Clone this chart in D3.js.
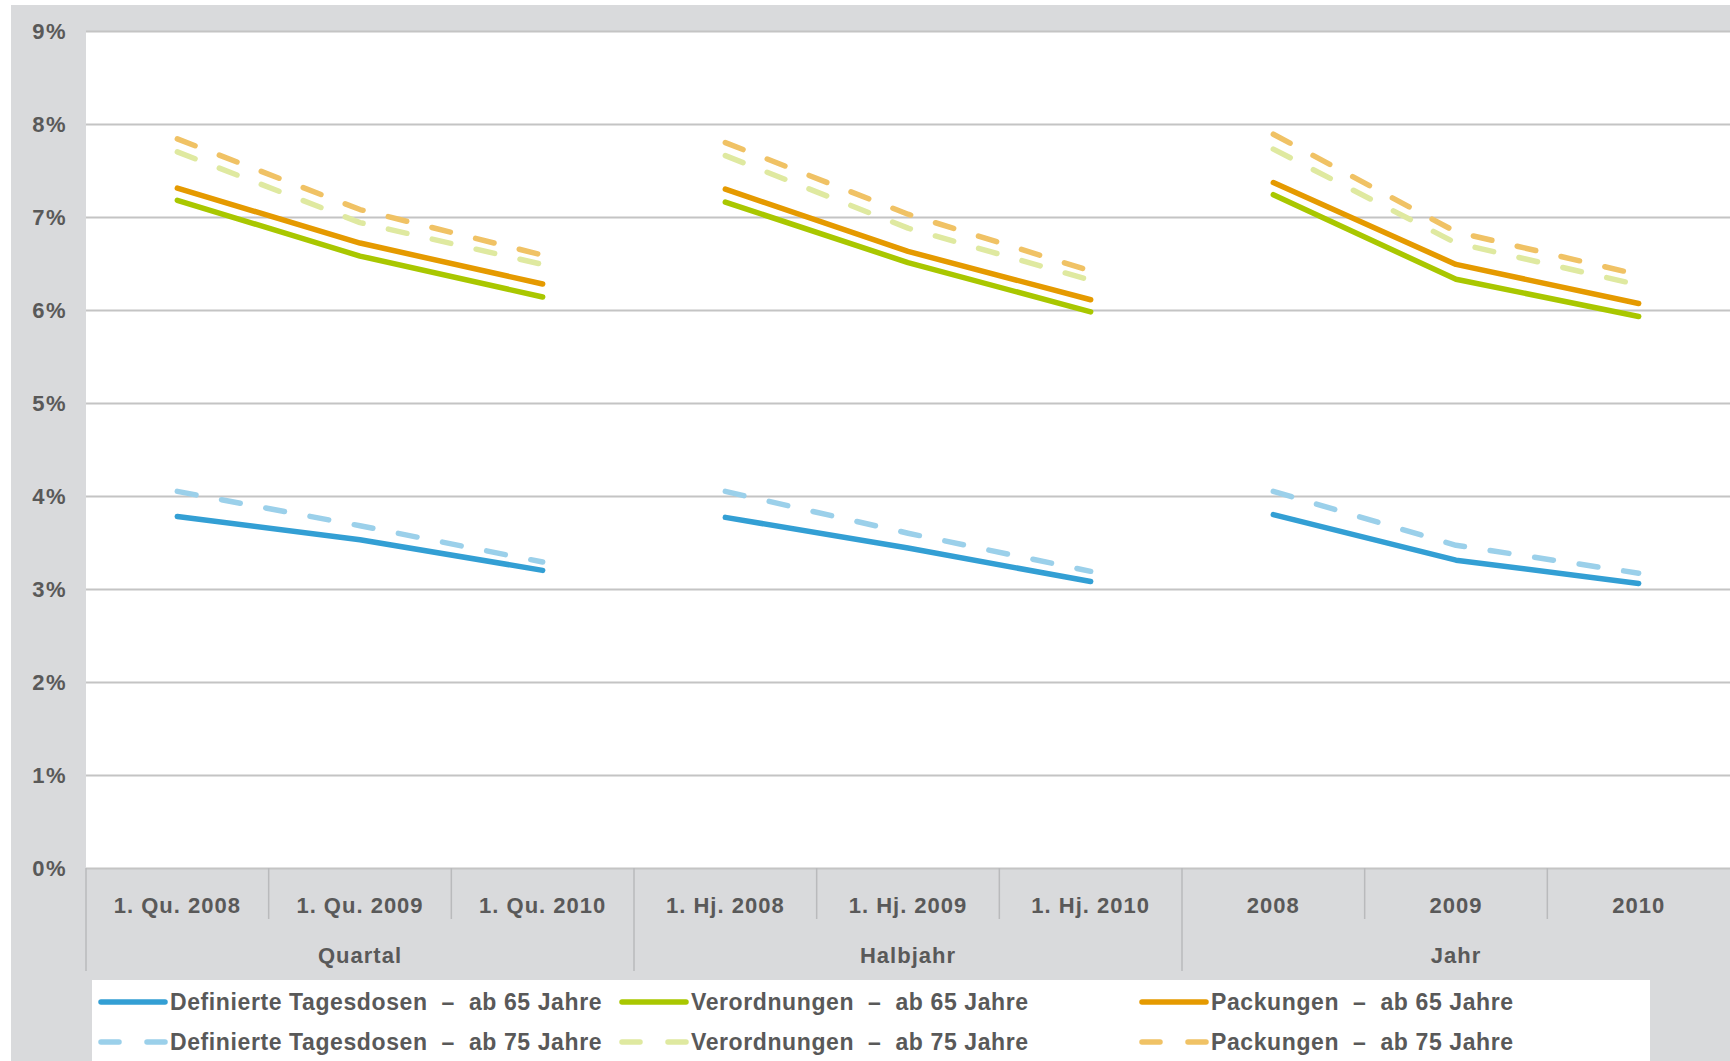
<!DOCTYPE html>
<html>
<head>
<meta charset="utf-8">
<script src="https://cdn.jsdelivr.net/npm/d3@7"></script>
<style>
  html, body { margin: 0; padding: 0; background: #ffffff; }
  svg { display: block; }
  text { font-family: "Liberation Sans", Arial, sans-serif; font-weight: bold; fill: #595959; }
</style>
</head>
<body>
<svg id="chart" width="1730" height="1061"></svg>
<script>
// Categories along the x axis, grouped by reporting period
const categories = ["1. Qu. 2008", "1. Qu. 2009", "1. Qu. 2010",
                    "1. Hj. 2008", "1. Hj. 2009", "1. Hj. 2010",
                    "2008", "2009", "2010"];
const groups = ["Quartal", "Halbjahr", "Jahr"];
const groupSize = 3;

// Y axis ticks (percent)
const yTicks = [0, 1, 2, 3, 4, 5, 6, 7, 8, 9];

// Series values in percent, one value per category
const dtd65 = [3.78, 3.53, 3.20, 3.77, 3.44, 3.08, 3.80, 3.31, 3.06];
const vo65  = [7.18, 6.58, 6.14, 7.16, 6.51, 5.98, 7.24, 6.33, 5.93];
const pk65  = [7.31, 6.72, 6.28, 7.30, 6.63, 6.11, 7.37, 6.49, 6.07];
const dtd75 = [4.05, 3.68, 3.29, 4.05, 3.60, 3.19, 4.05, 3.47, 3.17];
const vo75  = [7.70, 6.94, 6.49, 7.66, 6.88, 6.32, 7.73, 6.72, 6.27];
const pk75  = [7.84, 7.08, 6.59, 7.80, 7.03, 6.42, 7.89, 6.84, 6.38];

const seriesNames = ["Definierte Tagesdosen  \u2013  ab 65 Jahre",
                     "Verordnungen  \u2013  ab 65 Jahre",
                     "Packungen  \u2013  ab 65 Jahre",
                     "Definierte Tagesdosen  \u2013  ab 75 Jahre",
                     "Verordnungen  \u2013  ab 75 Jahre",
                     "Packungen  \u2013  ab 75 Jahre"];
const seriesValues = [dtd65, vo65, pk65, dtd75, vo75, pk75];
const seriesColors = ["#339fd4", "#a9c700", "#e59a00", "#9bd0ea", "#dfe9a0", "#f0c265"];
const seriesDashed = [false, false, false, true, true, true];

const svg = d3.select("#chart");

// Frame geometry
const plot = { left: 86, right: 1730, top: 31, bottom: 868 };

// Background panel
svg.append("rect").attr("x", 11).attr("y", 5).attr("width", 1719).attr("height", 1056)
  .attr("fill", "#d9dadc");
svg.append("rect").attr("x", plot.left).attr("y", plot.top)
  .attr("width", plot.right - plot.left).attr("height", plot.bottom - plot.top)
  .attr("fill", "#ffffff");

const x = d3.scaleBand().domain(categories).range([plot.left, plot.right]).padding(0);
const y = d3.scaleLinear().domain([0, 9]).range([plot.bottom, plot.top]);

// Gridlines and y labels
const yAxis = d3.axisLeft(y).tickValues(yTicks).tickFormat(d => d + "%")
  .tickSize(-(plot.right - plot.left)).tickPadding(19);
const gy = svg.append("g").attr("transform", `translate(${plot.left},0)`).call(yAxis);
gy.select(".domain").remove();
gy.selectAll(".tick line").attr("stroke", "#c4c4c4").attr("stroke-width", 2);
gy.selectAll(".tick text").attr("font-size", 22).attr("letter-spacing", 1.5)
  .attr("fill", "#595959").style("font-family", "'Liberation Sans', Arial, sans-serif");

// Category axis: separators, labels and group labels
const axisG = svg.append("g");
const catLabelY = 905, groupLabelY = 955;
categories.forEach((c, i) => {
  const x0 = x(c);
  const isGroupStart = i % groupSize === 0;
  axisG.append("line")
    .attr("x1", x0).attr("x2", x0)
    .attr("y1", plot.bottom).attr("y2", isGroupStart ? 971 : 919)
    .attr("stroke", "#b9babc").attr("stroke-width", 1.5);
  axisG.append("text")
    .attr("x", x0 + x.bandwidth() / 2).attr("y", catLabelY)
    .attr("text-anchor", "middle").attr("dominant-baseline", "central")
    .attr("font-size", 22).attr("letter-spacing", 1)
    .text(c);
});
groups.forEach((g, gi) => {
  const first = categories[gi * groupSize];
  const last = categories[gi * groupSize + groupSize - 1];
  const cx = (x(first) + x(last) + x.bandwidth()) / 2;
  axisG.append("text")
    .attr("x", cx).attr("y", groupLabelY)
    .attr("text-anchor", "middle").attr("dominant-baseline", "central")
    .attr("font-size", 22).attr("letter-spacing", 1)
    .text(g);
});

// Lines: each series is broken into one segment per group
const line = d3.line()
  .x(d => x(d.cat) + x.bandwidth() / 2)
  .y(d => y(d.v));

const linesG = svg.append("g");
seriesValues.forEach((vals, si) => {
  groups.forEach((g, gi) => {
    const seg = [];
    for (let k = 0; k < groupSize; k++) {
      const idx = gi * groupSize + k;
      seg.push({ cat: categories[idx], v: vals[idx] });
    }
    linesG.append("path")
      .attr("d", line(seg))
      .attr("fill", "none")
      .attr("stroke", seriesColors[si])
      .attr("stroke-width", 5.5)
      .attr("stroke-linecap", "round")
      .attr("stroke-linejoin", "round")
      .attr("stroke-dasharray", seriesDashed[si] ? "19 26" : null);
  });
});

// Legend
const legend = svg.append("g");
legend.append("rect").attr("x", 92).attr("y", 980).attr("width", 1558).attr("height", 81)
  .attr("fill", "#ffffff");
const legCols = [99, 620, 1140];
const legRows = [1002, 1042];
seriesNames.forEach((name, si) => {
  const col = si % 3, row = Math.floor(si / 3);
  const lx = legCols[col], ly = legRows[row];
  legend.append("line")
    .attr("x1", lx + 2).attr("x2", lx + 66)
    .attr("y1", ly).attr("y2", ly)
    .attr("stroke", seriesColors[si]).attr("stroke-width", 5.5)
    .attr("stroke-linecap", "round")
    .attr("stroke-dasharray", seriesDashed[si] ? "18 28" : null);
  legend.append("text")
    .attr("x", lx + 71).attr("y", ly)
    .attr("dominant-baseline", "central")
    .attr("font-size", 23).attr("letter-spacing", 0.6)
    .style("white-space", "pre")
    .text(name);
});
</script>
</body>
</html>
